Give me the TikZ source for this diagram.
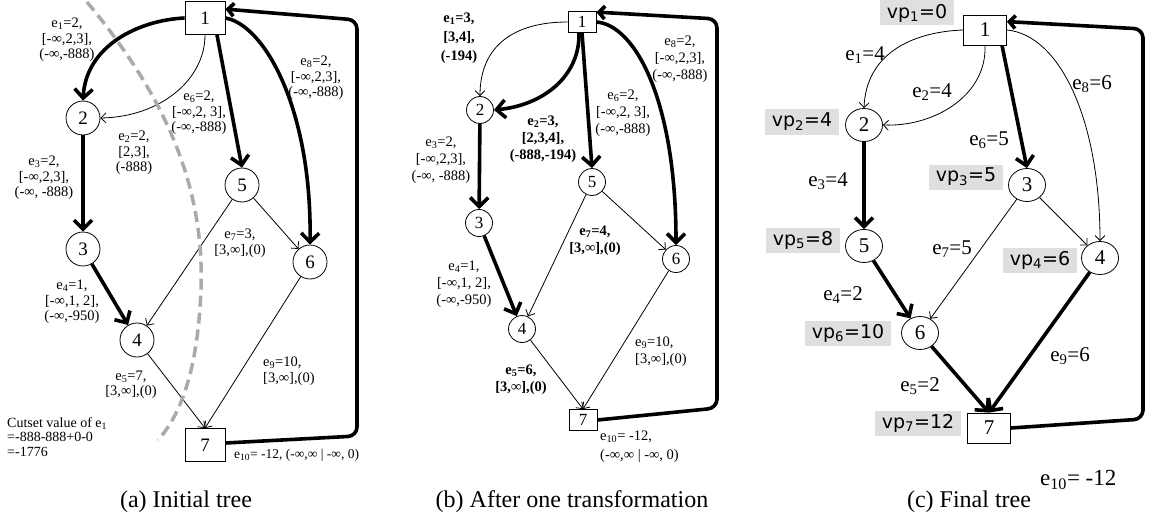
\documentclass[tikz,border=0pt]{standalone}
\usepackage{fontspec}
\setmainfont{Liberation Serif}
\newfontfamily\vpfont{DejaVu Sans}
\usetikzlibrary{arrows.meta,shapes.geometric}
\definecolor{cutgray}{RGB}{170,170,170}
\definecolor{vpgray}{RGB}{223,223,223}
\newcommand\sub[1]{\textsubscript{#1}}
\begin{document}
\begin{tikzpicture}[x=1pt,y=-1pt,
  nd/.style={draw, line width=0.8pt, inner sep=0pt, fill=white},
  boxA/.style={nd, rectangle, minimum width=40pt, minimum height=33pt, font=\fontsize{19}{20}\selectfont},
  circA/.style={nd, circle, minimum size=34pt, font=\fontsize{19}{20}\selectfont},
  boxB/.style={nd, rectangle, minimum width=28pt, minimum height=21pt, font=\fontsize{17}{18}\selectfont},
  circB/.style={nd, circle, minimum size=27pt, font=\fontsize{17}{18}\selectfont},
  boxC/.style={nd, rectangle, minimum width=43pt, minimum height=30pt, font=\fontsize{21}{22}\selectfont},
  ellC/.style={nd, ellipse, minimum width=37pt, minimum height=33pt, font=\fontsize{21}{22}\selectfont},
  ln/.style={line width=0.8pt, -{Straight Barb[length=5pt,width=10pt]}},
  hv/.style={line width=3.6pt, -{Straight Barb[length=9pt,width=18pt]}},
  ret/.style={line width=3.6pt, rounded corners=9pt, -{Straight Barb[length=6pt,width=13pt]}},
  lab/.style={align=center, inner sep=0pt, font=\fontsize{14.5}{15.5}\selectfont},
  labB/.style={align=center, inner sep=0pt, font=\fontsize{14.5}{17}\selectfont},
  cut/.style={draw=cutgray, line width=3.5pt, dash pattern=on 11pt off 6pt},
  vp/.style={fill=vpgray, inner xsep=7pt, inner ysep=0pt, minimum height=25pt, font=\vpfont\fontsize{19}{20}\selectfont},
  big/.style={inner sep=0pt, font=\fontsize{21}{22}\selectfont},
  captext/.style={inner sep=0pt, font=\fontsize{24}{26}\selectfont}
]
\useasboundingbox (0,0) rectangle (1150,524);

% ---------------- (a) initial tree ----------------
\node[boxA] (a1) at (205,18) {1};
\node[circA] (a2) at (83,118) {2};
\node[circA] (a3) at (83,249) {3};
\node[circA] (a4) at (137,340) {4};
\node[circA] (a5) at (242,185) {5};
\node[circA] (a6) at (310,262) {6};
\node[boxA] (a7) at (205,445) {7};

\draw[hv] (a1.west) .. controls (140,20) and (86,45) .. (a2.north);
\draw[ln] (a1.south) .. controls (205,80) and (160,117) .. (a2.east);
\draw[hv] ([xshift=12pt]a1.south) -- (a5.north);
\draw[hv] (a1.east) .. controls (265,25) and (312,110) .. (a6.north);
\draw[hv] (a2) -- (a3);
\draw[hv] (a3) -- (a4);
\draw[ln] (a5) -- (a4);
\draw[ln] (a5) -- (a6);
\draw[ln] (a4) -- (a7.north);
\draw[ln] (a6) -- (a7.north);
\draw[ret] ([yshift=2pt]a7.east) -- (357,436) -- (357,20) -- ([yshift=-8pt]a1.north east);

\draw[cut] (87,2) .. controls (160,90) and (205,180) .. (201,290)
           .. controls (198,360) and (185,410) .. (158,440);

\node[lab] (la1) at (67,40) {e\sub{1}=2,\\{}[-∞,2,3],\\(-∞,-888)};
\node[lab] (la2) at (134,153) {e\sub{2}=2,\\{}[2,3],\\(-888)};
\node[lab] (la3) at (44,178) {e\sub{3}=2,\\{}[-∞,2,3],\\(-∞, -888)};
\node[lab] (la6) at (199,113) {e\sub{6}=2,\\{}[-∞,2, 3],\\(-∞,-888)};
\node[lab] (la8) at (316,78) {e\sub{8}=2,\\{}[-∞,2,3],\\(-∞,-888)};
\node[lab] (la7) at (240,243) {e\sub{7}=3,\\{}[3,∞],(0)};
\node[lab] (la4) at (72,302) {e\sub{4}=1,\\{}[-∞,1, 2],\\(-∞,-950)};
\node[lab] (la5) at (131,385) {e\sub{5}=7,\\{}[3,∞],(0)};
\node[lab, align=left, anchor=west] (la9) at (263,371) {e\sub{9}=10,\\{}[3,∞],(0)};
\node[inner sep=0pt, anchor=west, font=\fontsize{13.5}{14}\selectfont] (la10) at (234,455)
  {e\sub{10}= -12, (-∞,∞ | -∞, 0)};
\node[inner sep=0pt, anchor=west, align=left, font=\fontsize{14}{14.5}\selectfont] (cutv) at (7,437)
  {Cutset value of e\sub{1}\\=-888-888+0-0\\=-1776};

% ---------------- (b) after one transformation ----------------
\node[boxB] (b1) at (582,22) {1};
\node[circB] (b2) at (480,110) {2};
\node[circB] (b3) at (479,223) {3};
\node[circB] (b4) at (522,329) {4};
\node[circB] (b5) at (592,182) {5};
\node[circB] (b6) at (676,259) {6};
\node[boxB] (b7) at (583,420) {7};

\draw[ln] (b1.west) .. controls (515,22) and (480,45) .. (b2.north);
\draw[hv] ([xshift=-3pt]b1.south) .. controls (580,75) and (545,105) .. (b2.east);
\draw[hv] (b1.south) -- (b5.north);
\draw[hv] (b1.east) .. controls (635,25) and (676,100) .. (b6.north);
\draw[hv] (b2) -- (b3);
\draw[hv] (b3) -- (b4);
\draw[ln] (b5) -- (b4);
\draw[ln] (b5) -- (b6);
\draw[ln] (b4) -- (b7.north);
\draw[ln] (b6) -- (b7.north);
\draw[ret] (b7.east) -- (717,408) -- (717,19) -- ([yshift=-1pt]b1.north east);

\node[labB, font=\fontsize{14.5}{19}\selectfont\bfseries] (lb1) at (459,38) {e\sub{1}=3,\\{}[3,4],\\(-194)};
\node[labB, font=\fontsize{14.5}{17}\selectfont\bfseries] (lb2) at (543,139) {e\sub{2}=3,\\{}[2,3,4],\\(-888,-194)};
\node[labB] (lb3) at (441,160) {e\sub{3}=2,\\{}[-∞,2,3],\\(-∞, -888)};
\node[labB] (lb6) at (623,113) {e\sub{6}=2,\\{}[-∞,2, 3],\\(-∞,-888)};
\node[labB] (lb8) at (680,59) {e\sub{8}=2,\\{}[-∞,2,3],\\(-∞,-888)};
\node[labB, font=\fontsize{14.5}{17}\selectfont\bfseries] (lb7) at (595,241) {e\sub{7}=4,\\{}[3,∞],(0)};
\node[labB] (lb4) at (464,284) {e\sub{4}=1,\\{}[-∞,1, 2],\\(-∞,-950)};
\node[labB, font=\fontsize{14.5}{17}\selectfont\bfseries] (lb5) at (521,380) {e\sub{5}=6,\\{}[3,∞],(0)};
\node[labB, align=left, anchor=west] (lb9) at (635,352) {e\sub{9}=10,\\{}[3,∞],(0)};
\node[labB, align=left, anchor=west, font=\fontsize{14.5}{19}\selectfont] (lb10) at (600,447)
  {e\sub{10}= -12,\\(-∞,∞ | -∞, 0)};

% ---------------- (c) final tree ----------------
\node[boxC] (c1) at (985,30) {1};
\node[ellC] (c2) at (864,125) {2};
\node[ellC] (c3) at (1027,185) {3};
\node[ellC] (c5) at (864,246) {5};
\node[ellC] (c4) at (1100,258) {4};
\node[ellC] (c6) at (920,333) {6};
\node[boxC] (c7) at (989,428) {7};

\draw[ln] (c1.west) .. controls (910,32) and (866,55) .. (c2.north);
\draw[ln] (c1.south) .. controls (987,95) and (935,127) .. (c2.east);
\draw[hv] ([xshift=17pt]c1.south) -- (c3.north);
\draw[ln] (c1.east) .. controls (1060,35) and (1100,120) .. (c4.north);
\draw[hv] (c2) -- (c5);
\draw[ln] (c3) -- (c4);
\draw[ln] (c3) -- (c6);
\draw[hv] (c5) -- (c6);
\draw[hv] (c6) -- (c7.north);
\draw[hv] (c4) -- (c7.north);
\draw[ret] (c7.east) -- (1143,419) -- (1143,29) -- ([yshift=-7pt]c1.north east);

\node[vp] (vp1) at (917,13) {vp\sub{1}=0};
\node[vp] (vp2) at (802,122) {vp\sub{2}=4};
\node[vp] (vp3) at (966,177) {vp\sub{3}=5};
\node[vp] (vp5) at (803,240) {vp\sub{5}=8};
\node[vp] (vp4) at (1040,260) {vp\sub{4}=6};
\node[vp] (vp6) at (848,333) {vp\sub{6}=10};
\node[vp] (vp7) at (918,423) {vp\sub{7}=12};

\node[big] (lc1) at (865,55) {e\sub{1}=4};
\node[big] (lc2) at (932,92) {e\sub{2}=4};
\node[big] (lc8) at (1092,84) {e\sub{8}=6};
\node[big] (lc6) at (989,140) {e\sub{6}=5};
\node[big] (lc3) at (828,181) {e\sub{3}=4};
\node[big] (lc7) at (952,249) {e\sub{7}=5};
\node[big] (lc4) at (843,295) {e\sub{4}=2};
\node[big] (lc9) at (1070,356) {e\sub{9}=6};
\node[big] (lc5) at (920,386) {e\sub{5}=2};
\node[big, anchor=west, font=\fontsize{23}{24}\selectfont] (lc10) at (1040,480) {e\sub{10}= -12};

% ---------------- captions ----------------
\node[captext] (capa) at (186,502) {(a) Initial tree};
\node[captext] (capb) at (572,502) {(b) After one transformation};
\node[captext] (capc) at (969,502) {(c) Final tree};
\end{tikzpicture}
\end{document}
